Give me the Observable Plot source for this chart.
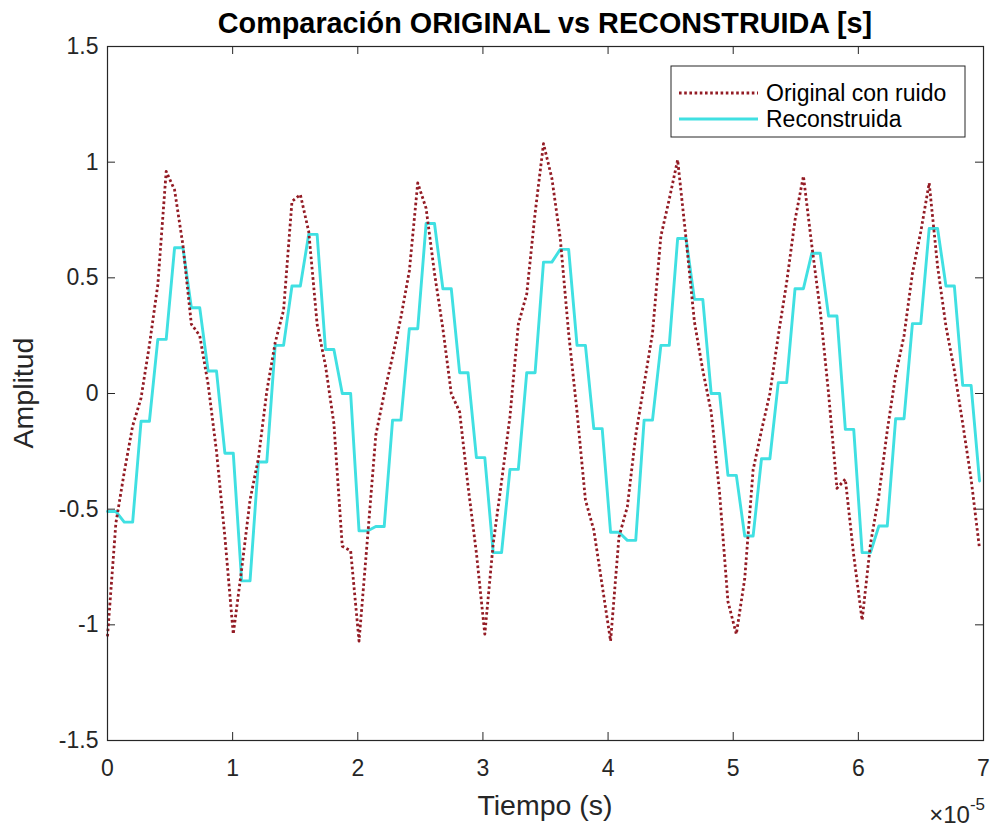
<!DOCTYPE html>
<html>
<head>
<meta charset="utf-8">
<script src="https://cdn.jsdelivr.net/npm/d3@7"></script>
<script src="https://cdn.jsdelivr.net/npm/@observablehq/plot@0.6"></script>
<style>
  body { margin: 0; background: #fff; }
  #chart { width: 993px; height: 827px; }
  #chart svg text { font-family: "Liberation Sans", Arial, Helvetica, sans-serif; }
</style>
</head>
<body>
<div id="chart"></div>
<script>
// Noisy original signal, one value per sample
const original = [
  -1.05, -0.56, -0.34, -0.14, -0.02, 0.21, 0.47, 0.96, 0.88, 0.64,
  0.30, 0.25, 0.04, -0.25, -0.62, -1.04, -0.76, -0.46, -0.28, 0.01,
  0.22, 0.36, 0.83, 0.86, 0.70, 0.30, 0.12, -0.13, -0.66, -0.68,
  -1.07, -0.63, -0.18, 0.00, 0.16, 0.33, 0.53, 0.91, 0.80, 0.52,
  0.28, 0.00, -0.08, -0.40, -0.69, -1.04, -0.65, -0.38, -0.10, 0.30,
  0.43, 0.78, 1.08, 0.93, 0.67, 0.26, -0.08, -0.46, -0.59, -0.83,
  -1.07, -0.62, -0.49, -0.18, 0.04, 0.26, 0.68, 0.84, 1.01, 0.67,
  0.31, 0.10, -0.08, -0.43, -0.90, -1.04, -0.80, -0.33, -0.16, 0.00,
  0.25, 0.48, 0.75, 0.94, 0.64, 0.36, 0.00, -0.41, -0.37, -0.70,
  -0.98, -0.65, -0.44, -0.16, 0.08, 0.25, 0.52, 0.70, 0.91, 0.55,
  0.29, 0.10, -0.13, -0.37, -0.67
];

// Reconstructed signal on the same sample grid (each level held for two samples)
const reconstruida = [
  -0.51, -0.51, -0.556, -0.556, -0.12, -0.12, 0.234, 0.234, 0.63, 0.63,
  0.371, 0.371, 0.097, 0.097, -0.258, -0.258, -0.81, -0.81, -0.296, -0.296,
  0.208, 0.208, 0.465, 0.465, 0.688, 0.688, 0.19, 0.19, 0.0, 0.0,
  -0.594, -0.594, -0.575, -0.575, -0.115, -0.115, 0.28, 0.28, 0.735, 0.735,
  0.453, 0.453, 0.09, 0.09, -0.277, -0.277, -0.688, -0.688, -0.328, -0.328,
  0.09, 0.09, 0.568, 0.568, 0.623, 0.623, 0.208, 0.208, -0.152, -0.152,
  -0.60, -0.60, -0.635, -0.635, -0.115, -0.115, 0.208, 0.208, 0.67, 0.67,
  0.407, 0.407, 0.0, 0.0, -0.354, -0.354, -0.616, -0.616, -0.282, -0.282,
  0.047, 0.047, 0.453, 0.453, 0.606, 0.606, 0.335, 0.335, -0.155, -0.155,
  -0.688, -0.688, -0.573, -0.573, -0.109, -0.109, 0.302, 0.302, 0.713, 0.713,
  0.465, 0.465, 0.035, 0.035, -0.378
];

// Sampling period of both signals (s)
const samplePeriod = 0.067e-5;

// Axis ticks and labels
const xTicks = [0, 1e-5, 2e-5, 3e-5, 4e-5, 5e-5, 6e-5, 7e-5];
const yTicks = [-1.5, -1, -0.5, 0, 0.5, 1, 1.5];
const seriesNames = ["Original con ruido", "Reconstruida"];
const titleText = "Comparación ORIGINAL vs RECONSTRUIDA [s]";
const xLabel = "Tiempo (s)";
const yLabel = "Amplitud";

const rows = original.map((v, k) => ({
  t: k * samplePeriod,
  original: v,
  reconstruida: reconstruida[k]
}));

const W = 993, H = 827;
const mL = 107, mR = 10, mT = 46, mB = 87;
const innerW = W - mL - mR, innerH = H - mT - mB;
const tickLen = 8;
const ink = "#262626";
const redColor = "#931b24";
const cyanColor = "#40e0e2";
const redDash = "2.6,2.6";
const redWidth = 2.8;
const cyanWidth = 2.9;

const chart = Plot.plot({
  width: W,
  height: H,
  marginLeft: mL,
  marginRight: mR,
  marginTop: mT,
  marginBottom: mB,
  style: { background: "#fff", color: ink, fontSize: "22px", overflow: "visible" },
  x: { domain: [0, 7e-5], label: null },
  y: { domain: [-1.5, 1.5], label: null },
  marks: [
    Plot.axisX(xTicks, { tickSize: 0, tickPadding: 19, fontSize: 23, tickFormat: d => String(Math.round(d * 1e5)), label: null }),
    Plot.axisY(yTicks, { tickSize: 0, tickPadding: 9, fontSize: 23, tickFormat: d => String(d), label: null }),
    // inward ticks on all four sides of the box
    Plot.tickX(xTicks, { x: d => d, insetTop: innerH - tickLen, stroke: ink }),
    Plot.tickX(xTicks, { x: d => d, insetBottom: innerH - tickLen, stroke: ink }),
    Plot.tickY(yTicks, { y: d => d, insetRight: innerW - tickLen, stroke: ink }),
    Plot.tickY(yTicks, { y: d => d, insetLeft: innerW - tickLen, stroke: ink }),
    Plot.line(rows, { x: "t", y: "reconstruida", stroke: cyanColor, strokeWidth: cyanWidth }),
    Plot.line(rows, { x: "t", y: "original", stroke: redColor, strokeWidth: redWidth, strokeDasharray: redDash, strokeLinecap: "butt" }),
    Plot.frame({ stroke: ink, strokeWidth: 1.2 })
  ]
});

document.getElementById("chart").appendChild(chart);

// Title, axis labels, exponent and legend
const svg = d3.select(chart);
svg.append("text")
  .attr("x", mL + innerW / 2).attr("y", 33)
  .attr("text-anchor", "middle").attr("font-size", 28.8).attr("font-weight", "bold")
  .attr("fill", "#000")
  .text(titleText);

svg.append("text")
  .attr("x", mL + innerW / 2).attr("y", 815)
  .attr("text-anchor", "middle").attr("font-size", 28.5).attr("fill", ink)
  .text(xLabel);

svg.append("text")
  .attr("transform", `translate(33,${mT + innerH / 2}) rotate(-90)`)
  .attr("text-anchor", "middle").attr("font-size", 28.5).attr("fill", ink)
  .text(yLabel);

const expo = svg.append("text")
  .attr("x", 985).attr("y", 823)
  .attr("text-anchor", "end").attr("font-size", 24).attr("fill", ink);
expo.append("tspan").text("×10");
expo.append("tspan").attr("dy", -13).attr("font-size", 17).text("-5");

const legend = svg.append("g").attr("text-anchor", "start");
legend.append("rect")
  .attr("x", 671).attr("y", 66).attr("width", 294).attr("height", 71)
  .attr("fill", "#fff").attr("stroke", ink).attr("stroke-width", 1);
const legendStyles = [
  { stroke: redColor, width: redWidth, dash: redDash },
  { stroke: cyanColor, width: cyanWidth, dash: null }
];
seriesNames.forEach((name, i) => {
  const y = 93 + i * 26;
  const ln = legend.append("line")
    .attr("x1", 679).attr("x2", 758).attr("y1", y).attr("y2", y)
    .attr("stroke", legendStyles[i].stroke).attr("stroke-width", legendStyles[i].width);
  if (legendStyles[i].dash) ln.attr("stroke-dasharray", legendStyles[i].dash);
  legend.append("text")
    .attr("x", 766).attr("y", y).attr("dy", "0.35em")
    .attr("text-anchor", "start")
    .attr("font-size", 23).attr("fill", "#000")
    .text(name);
});
</script>
</body>
</html>
